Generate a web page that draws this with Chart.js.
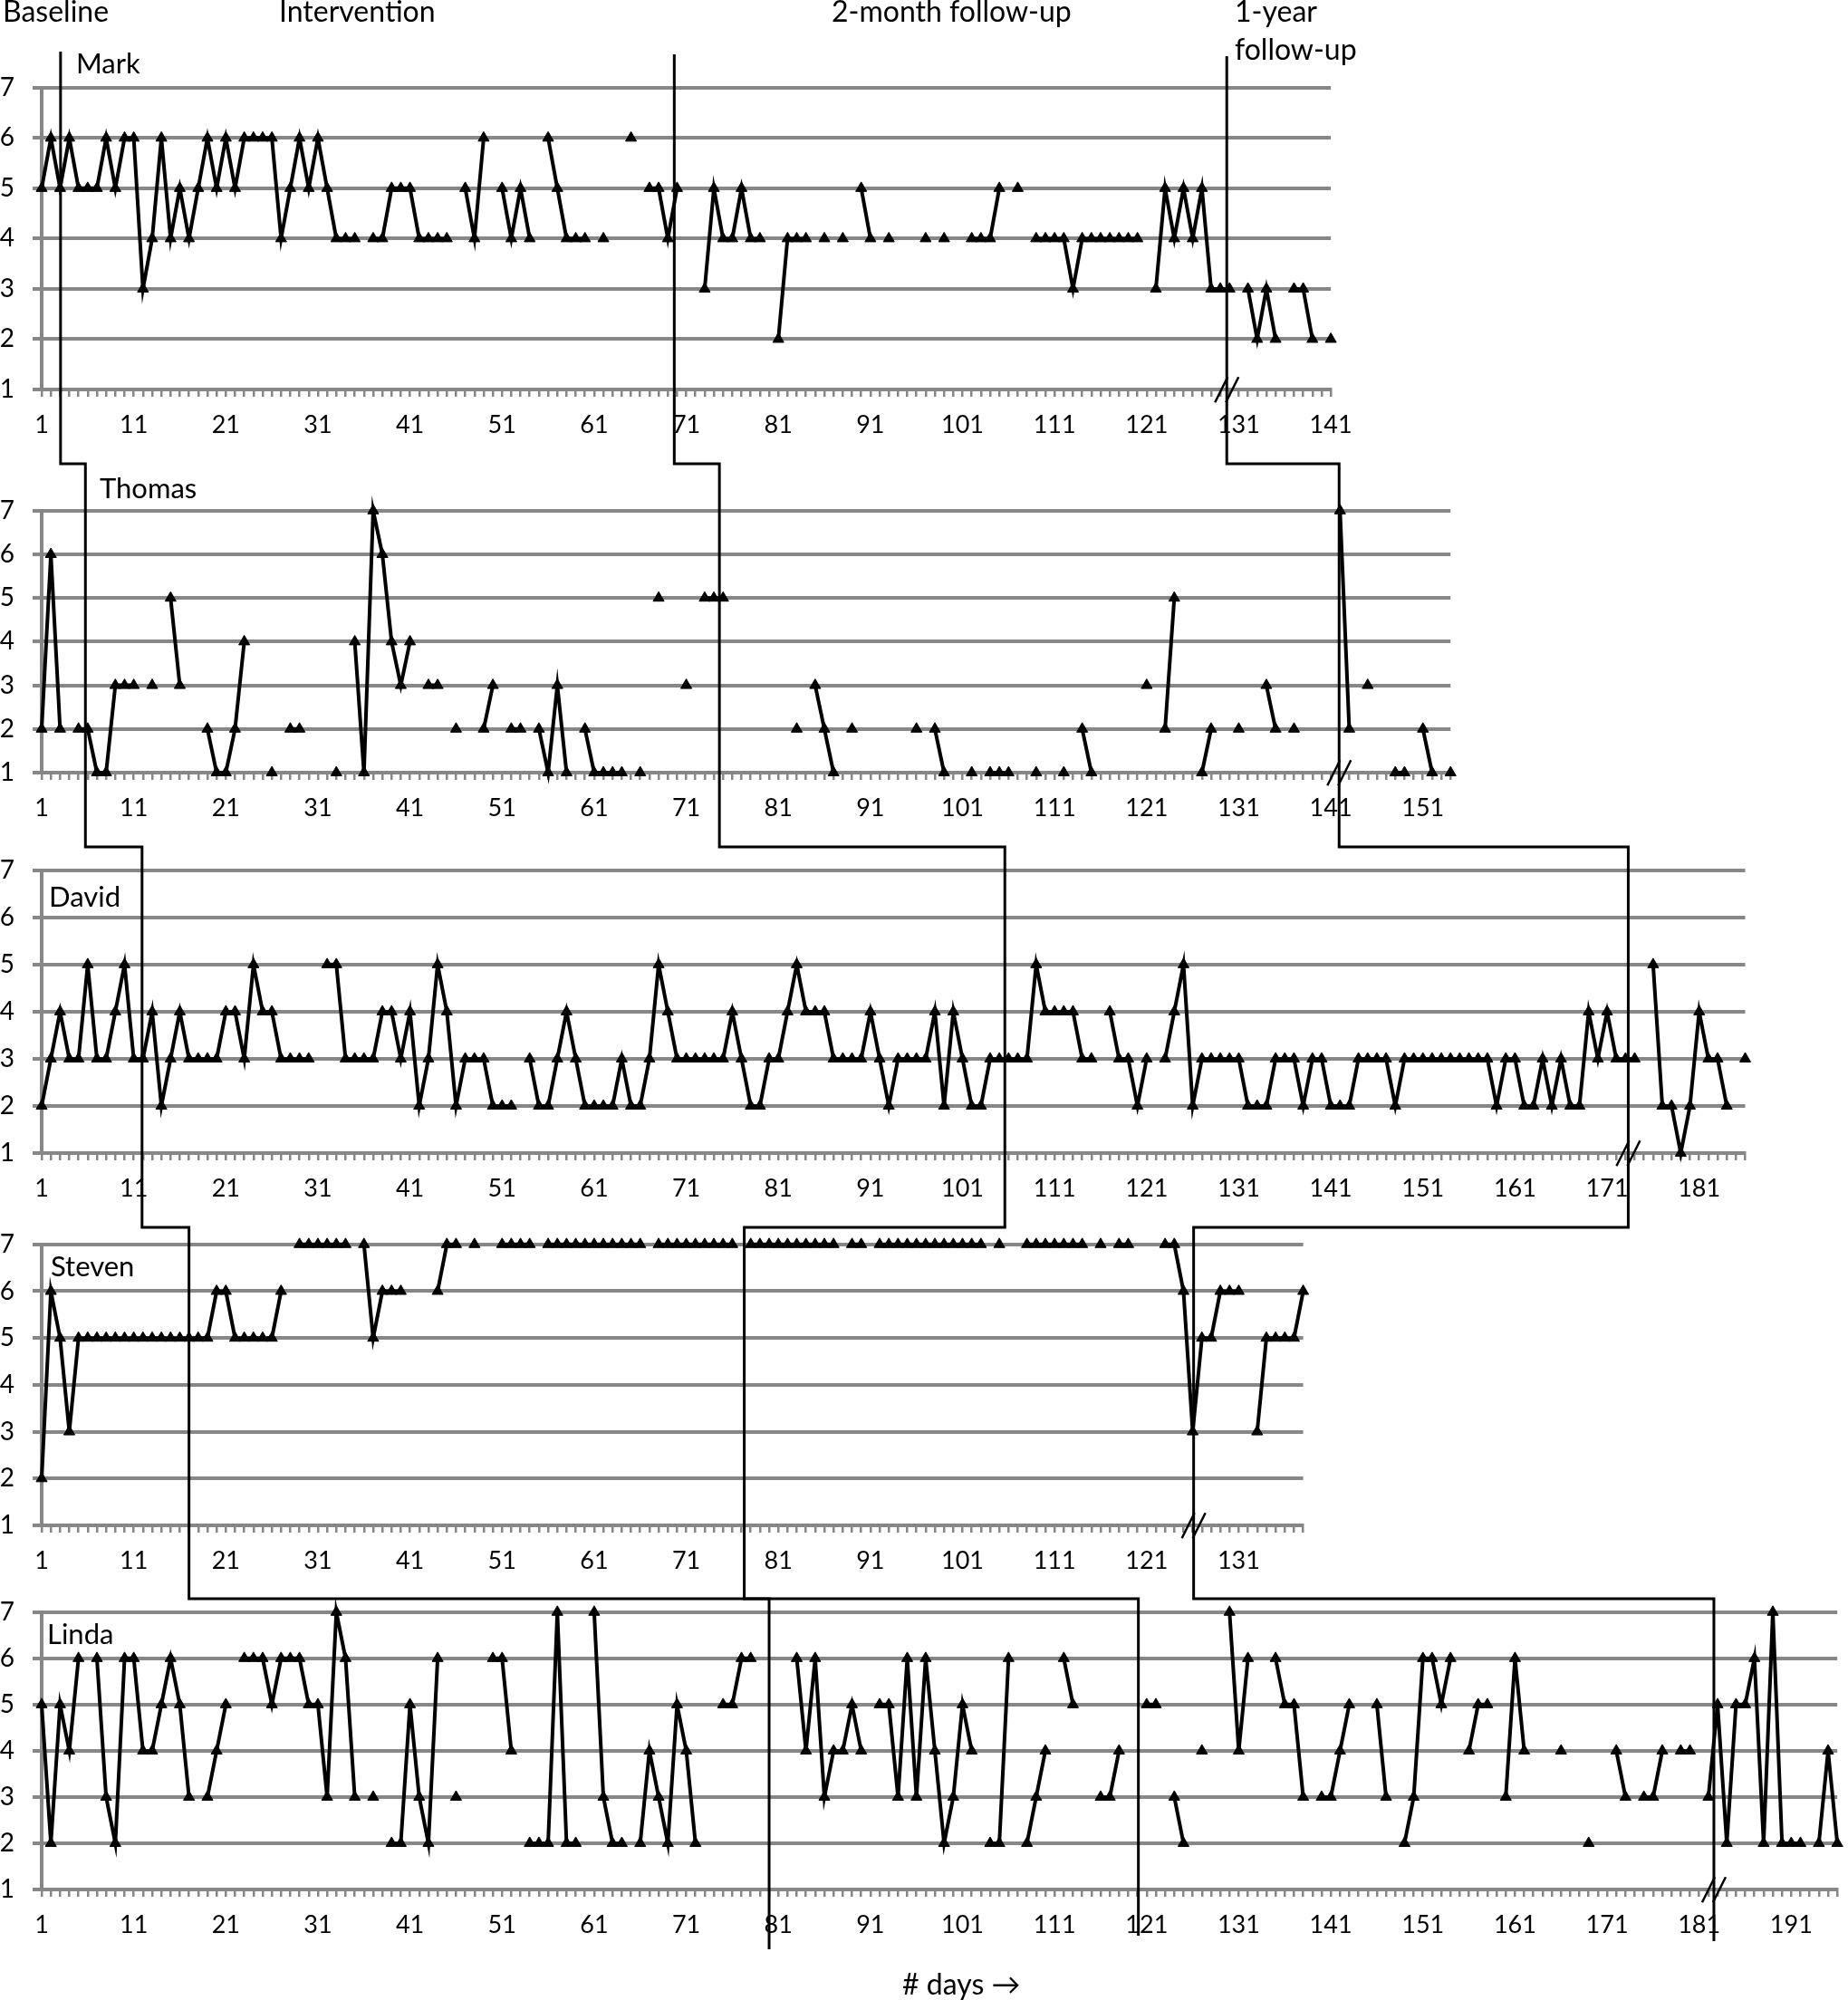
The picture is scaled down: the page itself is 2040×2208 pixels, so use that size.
<!DOCTYPE html>
<html>
<head>
<meta charset="utf-8">
<title>Daily ratings per participant</title>
<script src="https://cdn.jsdelivr.net/npm/chart.js@4.4.0/dist/chart.umd.min.js"></script>
<style>
  html, body { margin: 0; padding: 0; background: #fff; }
  body { width: 2040px; height: 2208px; position: relative; overflow: hidden; font-family: Lato, "Open Sans", sans-serif; }
  canvas.panel { position: absolute; left: 0; }
  #overlay { position: absolute; left: 0; top: 0; pointer-events: none; z-index: 5; }
  .lbl { position: absolute; font-size: 32px; line-height: 32px; color: #000; white-space: nowrap; z-index: 6; }
  .name { font-size: 31px; line-height: 31px; }
</style>
</head>
<body>
<div class="lbl" style="left:3px; top:-4px;">Baseline</div>
<div class="lbl" style="left:308px; top:-4px;">Intervention</div>
<div class="lbl" style="left:918px; top:-4px;">2-month follow-up</div>
<div class="lbl" style="left:1363px; top:-4px;">1-year</div>
<div class="lbl" style="left:1363px; top:38px;">follow-up</div>
<div class="lbl name" style="left:84px; top:54px;">Mark</div>
<div class="lbl name" style="left:110px; top:523px;">Thomas</div>
<div class="lbl name" style="left:54px; top:974px;">David</div>
<div class="lbl name" style="left:56px; top:1382px;">Steven</div>
<div class="lbl name" style="left:52px; top:1788px;">Linda</div>
<div class="lbl" style="left:996px; top:2174px;"># days &rarr;</div>
<canvas id="overlay" width="2040" height="2208"></canvas>
<script>
// daily scores (1-7), null = no rating that day
const markScores = [
  5, 6, 5, 6, 5, 5, 5, 6, 5, 6,
  6, 3, 4, 6, 4, 5, 4, 5, 6, 5,
  6, 5, 6, 6, 6, 6, 4, 5, 6, 5,
  6, 5, 4, 4, 4, null, 4, 4, 5, 5,
  5, 4, 4, 4, 4, null, 5, 4, 6, null,
  5, 4, 5, 4, null, 6, 5, 4, 4, 4,
  null, 4, null, null, 6, null, 5, 5, 4, 5,
  null, null, 3, 5, 4, 4, 5, 4, 4, null,
  2, 4, 4, 4, null, 4, null, 4, null, 5,
  4, null, 4, null, null, null, 4, null, 4, null,
  null, 4, 4, 4, 5, null, 5, null, 4, 4,
  4, 4, 3, 4, 4, 4, 4, 4, 4, 4,
  null, 3, 5, 4, 5, 4, 5, 3, 3, 3,
  null, 3, 2, 3, 2, null, 3, 3, 2, null,
  2
];

const thomasScores = [
  2, 6, 2, null, 2, 2, 1, 1, 3, 3,
  3, null, 3, null, 5, 3, null, null, 2, 1,
  1, 2, 4, null, null, 1, null, 2, 2, null,
  null, null, 1, null, 4, 1, 7, 6, 4, 3,
  4, null, 3, 3, null, 2, null, null, 2, 3,
  null, 2, 2, null, 2, 1, 3, 1, null, 2,
  1, 1, 1, 1, null, 1, null, 5, null, null,
  3, null, 5, 5, 5, null, null, null, null, null,
  null, null, 2, null, 3, 2, 1, null, 2, null,
  null, null, null, null, null, 2, null, 2, 1, null,
  null, 1, null, 1, 1, 1, null, null, 1, null,
  null, 1, null, 2, 1, null, null, null, null, null,
  3, null, 2, 5, null, null, 1, 2, null, null,
  2, null, null, 3, 2, null, 2, null, null, null,
  null, 7, 2, null, 3, null, null, 1, 1, null,
  2, 1, null, 1
];

const davidScores = [
  2, 3, 4, 3, 3, 5, 3, 3, 4, 5,
  3, 3, 4, 2, 3, 4, 3, 3, 3, 3,
  4, 4, 3, 5, 4, 4, 3, 3, 3, 3,
  null, 5, 5, 3, 3, 3, 3, 4, 4, 3,
  4, 2, 3, 5, 4, 2, 3, 3, 3, 2,
  2, 2, null, 3, 2, 2, 3, 4, 3, 2,
  2, 2, 2, 3, 2, 2, 3, 5, 4, 3,
  3, 3, 3, 3, 3, 4, 3, 2, 2, 3,
  3, 4, 5, 4, 4, 4, 3, 3, 3, 3,
  4, 3, 2, 3, 3, 3, 3, 4, 2, 4,
  3, 2, 2, 3, 3, 3, 3, 3, 5, 4,
  4, 4, 4, 3, 3, null, 4, 3, 3, 2,
  3, null, 3, 4, 5, 2, 3, 3, 3, 3,
  3, 2, 2, 2, 3, 3, 3, 2, 3, 3,
  2, 2, 2, 3, 3, 3, 3, 2, 3, 3,
  3, 3, 3, 3, 3, 3, 3, 3, 2, 3,
  3, 2, 2, 3, 2, 3, 2, 2, 4, 3,
  4, 3, 3, 3, null, 5, 2, 2, 1, 2,
  4, 3, 3, 2, null, 3
];

const stevenScores = [
  2, 6, 5, 3, 5, 5, 5, 5, 5, 5,
  5, 5, 5, 5, 5, 5, 5, 5, 5, 6,
  6, 5, 5, 5, 5, 5, 6, null, 7, 7,
  7, 7, 7, 7, null, 7, 5, 6, 6, 6,
  null, null, null, 6, 7, 7, null, 7, null, null,
  7, 7, 7, 7, null, 7, 7, 7, 7, 7,
  7, 7, 7, 7, 7, 7, null, 7, 7, 7,
  7, 7, 7, 7, 7, 7, null, 7, 7, 7,
  7, 7, 7, 7, 7, 7, 7, null, 7, 7,
  null, 7, 7, 7, 7, 7, 7, 7, 7, 7,
  7, 7, 7, null, 7, null, null, 7, 7, 7,
  7, 7, 7, 7, null, 7, null, 7, 7, null,
  null, null, 7, 7, 6, 3, 5, 5, 6, 6,
  6, null, 3, 5, 5, 5, 5, 6
];

const lindaScores = [
  5, 2, 5, 4, 6, null, 6, 3, 2, 6,
  6, 4, 4, 5, 6, 5, 3, null, 3, 4,
  5, null, 6, 6, 6, 5, 6, 6, 6, 5,
  5, 3, 7, 6, 3, null, 3, null, 2, 2,
  5, 3, 2, 6, null, 3, null, null, null, 6,
  6, 4, null, 2, 2, 2, 7, 2, 2, null,
  7, 3, 2, 2, null, 2, 4, 3, 2, 5,
  4, 2, null, null, 5, 5, 6, 6, null, null,
  null, null, 6, 4, 6, 3, 4, 4, 5, 4,
  null, 5, 5, 3, 6, 3, 6, 4, 2, 3,
  5, 4, null, 2, 2, 6, null, 2, 3, 4,
  null, 6, 5, null, null, 3, 3, 4, null, null,
  5, 5, null, 3, 2, null, 4, null, null, 7,
  4, 6, null, null, 6, 5, 5, 3, null, 3,
  3, 4, 5, null, null, 5, 3, null, 2, 3,
  6, 6, 5, 6, null, 4, 5, 5, null, 3,
  6, 4, null, null, null, 4, null, null, 2, null,
  null, 4, 3, null, 3, 3, 4, null, 4, 4,
  null, 3, 5, 2, 5, 5, 6, 2, 7, 2,
  2, 2, null, 2, 4, 2
];

// day (in each panel's own count) where a phase ends: Mark, Thomas, David, Steven, Linda
const baselineEnd = [3.05, 5.75, 11.9, 17.0, 80.0];
const interventionEnd = [69.7, 74.6, 105.6, 77.3, 120.1];
const twoMonthEnd = [129.7, 141.9, 173.3, 126.1, 182.6];

// layout (page pixels)
const DAY_PX = 10.165;
const AXIS_LEFT = 46;
const RIGHT_PAD = 50;
const X_AXIS_H = 58;
const GRID = '#878787';
const connectorY = [512, 935, 1355, 1765];

const panels = [
  { scores: markScores, y7: 97, y1: 430 },
  { scores: thomasScores, y7: 564, y1: 853 },
  { scores: davidScores, y7: 961, y1: 1273 },
  { scores: stevenScores, y7: 1374, y1: 1684 },
  { scores: lindaScores, y7: 1780, y1: 2086 }
];

Chart.defaults.font.family = 'Lato, "Open Sans", sans-serif';
Chart.defaults.color = '#000';

const charts = panels.map(function (p) {
  const n = p.scores.length;
  const days = Array.from({ length: n }, (_, i) => String(i + 1));
  const w = Math.ceil(AXIS_LEFT + (n - 1) * DAY_PX + RIGHT_PAD);

  const canvas = document.createElement('canvas');
  canvas.className = 'panel';
  canvas.width = w;
  canvas.height = (p.y1 - p.y7) + X_AXIS_H + 30;
  document.body.appendChild(canvas);

  const chart = new Chart(canvas.getContext('2d'), {
    type: 'line',
    data: {
      labels: days,
      datasets: [{
        data: p.scores,
        borderColor: '#000',
        borderWidth: 4,
        pointStyle: 'triangle',
        pointRadius: 7,
        pointBackgroundColor: '#000',
        pointBorderColor: '#000',
        pointBorderWidth: 1,
        tension: 0,
        spanGaps: false,
        clip: false
      }]
    },
    options: {
      responsive: false,
      maintainAspectRatio: false,
      animation: false,
      devicePixelRatio: 1,
      layout: { padding: { left: 0, top: 0, bottom: 0, right: w - AXIS_LEFT - (n - 1) * DAY_PX } },
      plugins: { legend: { display: false }, tooltip: { enabled: false } },
      scales: {
        x: {
          type: 'category',
          offset: false,
          grid: { display: true, drawOnChartArea: false, drawTicks: true, tickLength: 8, color: GRID, lineWidth: 2.5 },
          border: { display: true, color: GRID, width: 4 },
          ticks: {
            autoSkip: false,
            maxRotation: 0,
            padding: 15,
            font: { size: 27 },
            callback: function (v, i) { return i % 10 === 0 ? days[i] : ''; }
          },
          afterFit: function (scale) { scale.height = X_AXIS_H; }
        },
        y: {
          min: 1,
          max: 7,
          ticks: { stepSize: 1, padding: 20, font: { size: 28 } },
          grid: { color: GRID, lineWidth: 4, tickLength: 10 },
          border: { display: true, color: GRID, width: 4 },
          afterFit: function (scale) { scale.width = AXIS_LEFT; }
        }
      }
    }
  });

  // fit the canvas so the 7..1 span sits exactly where it should on the page
  const t = chart.chartArea.top;
  chart.resize(w, Math.round(t + (p.y1 - p.y7) + X_AXIS_H));
  p.top = p.y7 - chart.chartArea.top;
  canvas.style.top = p.top + 'px';
  return chart;
});

// phase-change lines across the panels
const octx = document.getElementById('overlay').getContext('2d');

function dayX(i, day) {
  return charts[i].scales.x.getPixelForValue(day - 1);
}

function drawPhaseLine(ends, topY, bottomY) {
  octx.beginPath();
  octx.moveTo(dayX(0, ends[0]), topY);
  for (let i = 0; i < 4; i++) {
    octx.lineTo(dayX(i, ends[i]), connectorY[i]);
    octx.lineTo(dayX(i + 1, ends[i + 1]), connectorY[i]);
  }
  octx.lineTo(dayX(4, ends[4]), bottomY);
  octx.stroke();
}

octx.strokeStyle = '#000';
octx.lineWidth = 3;
octx.lineJoin = 'miter';
drawPhaseLine(baselineEnd, 57, 2152);
drawPhaseLine(interventionEnd, 60, 2137);
drawPhaseLine(twoMonthEnd, 62, 2143);

// axis break marks at the 1-year follow-up
octx.lineWidth = 2.5;
octx.beginPath();
twoMonthEnd.forEach(function (d, i) {
  const cx = dayX(i, d);
  const cy = panels[i].top + charts[i].scales.y.getPixelForValue(1);
  [-6, 6].forEach(function (o) {
    octx.moveTo(cx + o - 7, cy + 14);
    octx.lineTo(cx + o + 7, cy - 14);
  });
});
octx.stroke();
</script>
</body>
</html>
